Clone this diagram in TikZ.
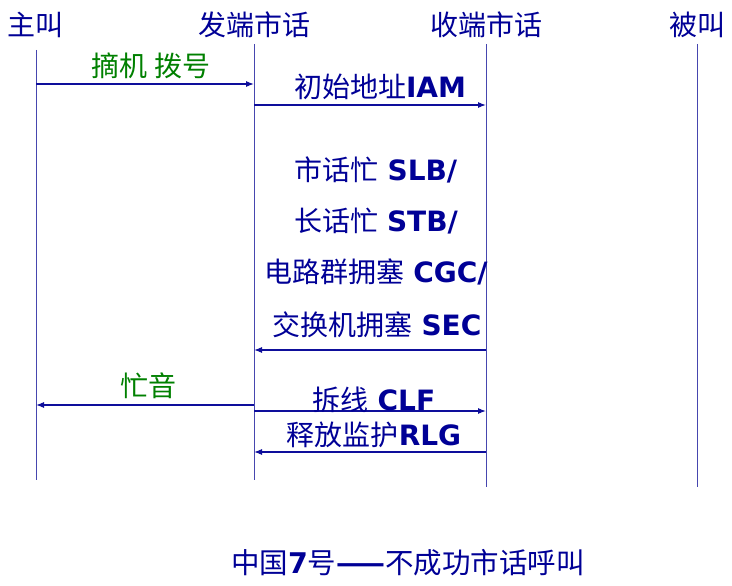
\documentclass[tikz,border=0pt]{standalone}
\usepackage{fontspec}
\setmainfont{DejaVu Sans}
\newfontfamily\cjk{Noto Sans CJK SC}
\usetikzlibrary{arrows.meta,positioning}
\definecolor{navy}{RGB}{0,0,150}
\definecolor{lifeblue}{RGB}{70,70,175}
\definecolor{actgreen}{RGB}{0,128,0}
\newcommand{\zh}[1]{{\cjk #1}}
\newcommand{\sig}[1]{\textbf{#1}}
\tikzset{
  party/.style ={font=\fontsize{28}{30}\selectfont\cjk, text=navy, inner sep=0pt},
  lbl/.style   ={font=\fontsize{28}{30}\selectfont, text=navy, inner sep=0pt},
  act/.style   ={font=\fontsize{28}{30}\selectfont\cjk, text=actgreen, inner sep=0pt},
  life/.style  ={draw=lifeblue, line width=1pt},
  ar/.style    ={-{Latex[length=8pt,width=6pt]}, line width=1.1pt, draw=navy!80!lifeblue},
}
\begin{document}
\begin{tikzpicture}[x=1pt,y=1pt]
\useasboundingbox (0,0) rectangle (732,-586);

% parties
\node[party] (zj) at (36,-25)  {主叫};
\node[party] (fd) at (254,-25) {发端市话};
\node[party] (sd) at (486,-25) {收端市话};
\node[party] (bj) at (697,-25) {被叫};

% lifelines
\coordinate (top1) at (0,-50);
\coordinate (top2) at (0,-44);
\coordinate (bot1) at (0,-480);
\coordinate (bot2) at (0,-487);
\draw[life] (zj |- top1) -- (zj |- bot1);
\draw[life] (fd |- top2) -- (fd |- bot1);
\draw[life] (sd |- top2) -- (sd |- bot2);
\draw[life] (bj |- top2) -- (bj |- bot2);

% message levels
\coordinate (m1) at (0,-84);
\coordinate (m2) at (0,-105);
\coordinate (m3) at (0,-350);
\coordinate (m4) at (0,-405);
\coordinate (m5) at (0,-411);
\coordinate (m6) at (0,-452);

\draw[ar] (zj |- m1) -- (fd |- m1);
\node[act] (dial) at (151,-66) {摘机 拨号};

\draw[ar] (fd |- m2) -- (sd |- m2);
\node[lbl] (iam) at (380,-87) {\zh{初始地址}\sig{IAM}};

\node[lbl] (slb) at (376,-170) {\zh{市话忙} \sig{SLB/}};
\node[lbl] (stb) at (376,-221) {\zh{长话忙} \sig{STB/}};
\node[lbl] (cgc) at (376,-272) {\zh{电路群拥塞} \sig{CGC/}};
\node[lbl] (sec) at (377,-325) {\zh{交换机拥塞} \sig{SEC}};
\draw[ar] (sd |- m3) -- (fd |- m3);

\draw[ar] (fd |- m4) -- (zj |- m4);
\node[act] (busy) at (148,-386) {忙音};

\draw[ar] (fd |- m5) -- (sd |- m5);
\node[lbl] (clf) at (374,-400) {\zh{拆线} \sig{CLF}};

\draw[ar] (sd |- m6) -- (fd |- m6);
\node[lbl] (rlg) at (374,-435) {\zh{释放监护}\sig{RLG}};

% title
\node[lbl, font=\fontsize{28.5}{30}\selectfont] (title) at (408,-563)
  {\zh{中国}\sig{7}\zh{号\textbf{——}不成功市话呼叫}};
\end{tikzpicture}
\end{document}
